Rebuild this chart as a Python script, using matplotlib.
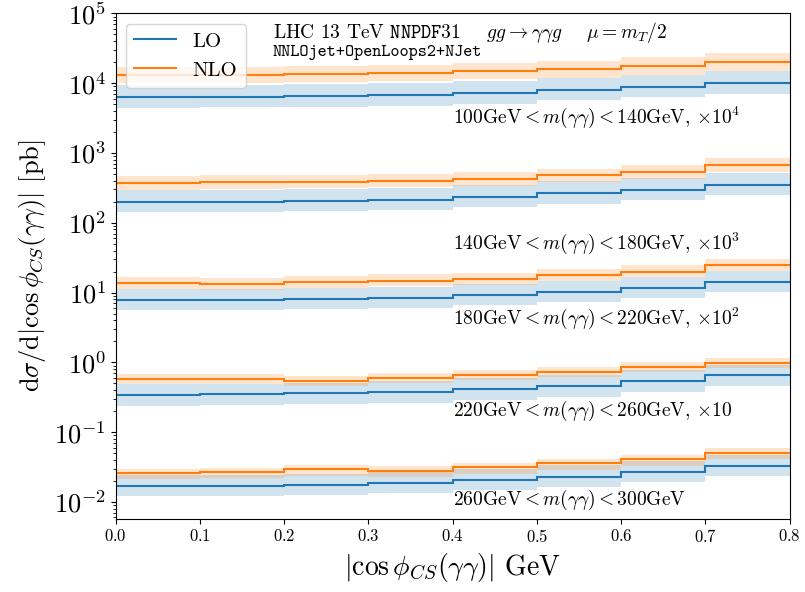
import matplotlib
matplotlib.use("Agg")
import matplotlib.pyplot as plt
import numpy as np

plt.rcParams['font.family'] = 'cmr10'
plt.rcParams['mathtext.fontset'] = 'cm'
plt.rcParams['axes.formatter.use_mathtext'] = True

edges = [0.0, 0.1, 0.2, 0.3, 0.4, 0.5, 0.6, 0.7, 0.8]

# mass bins, scale factor used for display
mass_bins = ["100", "140", "180", "220", "260", "300"]
scales = [1e4, 1e3, 1e2, 1e1, 1.0]
scale_txt = [r", $\times10^4$", r", $\times10^3$", r", $\times10^2$", r", $\times10$", ""]

# cross sections in pb (before scaling)
lo = [
    [0.639, 0.640, 0.653, 0.682, 0.714, 0.796, 0.888, 1.000],
    [0.198, 0.200, 0.205, 0.214, 0.233, 0.264, 0.297, 0.350],
    [0.0781, 0.0789, 0.0815, 0.0842, 0.0930, 0.103, 0.117, 0.141],
    [0.0340, 0.0348, 0.0360, 0.0379, 0.0414, 0.0457, 0.0540, 0.0651],
    [0.0169, 0.0171, 0.0176, 0.0188, 0.0206, 0.0230, 0.0268, 0.0327],
]
nlo = [
    [1.31, 1.31, 1.35, 1.38, 1.49, 1.58, 1.77, 2.01],
    [0.374, 0.383, 0.387, 0.400, 0.423, 0.478, 0.538, 0.671],
    [0.1355, 0.1324, 0.141, 0.1475, 0.1545, 0.178, 0.199, 0.248],
    [0.0577, 0.0571, 0.0545, 0.0601, 0.0658, 0.0726, 0.0848, 0.0987],
    [0.0259, 0.0268, 0.0293, 0.0280, 0.0313, 0.0357, 0.0408, 0.0507],
]

# scale variation envelopes (ratio to central)
lo_up = [
    [1.47, 1.47, 1.47, 1.48, 1.48, 1.48, 1.49, 1.49],
    [1.49, 1.49, 1.49, 1.49, 1.49, 1.49, 1.49, 1.49],
    [1.42, 1.42, 1.42, 1.42, 1.42, 1.43, 1.43, 1.43],
    [1.42, 1.42, 1.42, 1.42, 1.43, 1.43, 1.43, 1.43],
    [1.44, 1.44, 1.44, 1.44, 1.44, 1.45, 1.45, 1.45],
]
lo_dn = [
    [0.70, 0.70, 0.70, 0.70, 0.71, 0.71, 0.71, 0.71],
    [0.72, 0.72, 0.72, 0.72, 0.72, 0.71, 0.71, 0.71],
    [0.71, 0.71, 0.71, 0.71, 0.71, 0.71, 0.71, 0.71],
    [0.70, 0.70, 0.70, 0.70, 0.70, 0.70, 0.70, 0.70],
    [0.72, 0.72, 0.72, 0.72, 0.72, 0.72, 0.72, 0.72],
]
nlo_up = [
    [1.30, 1.30, 1.30, 1.31, 1.31, 1.32, 1.32, 1.33],
    [1.25, 1.25, 1.25, 1.25, 1.25, 1.25, 1.25, 1.25],
    [1.23, 1.23, 1.23, 1.23, 1.23, 1.23, 1.23, 1.23],
    [1.18, 1.18, 1.18, 1.18, 1.18, 1.18, 1.18, 1.18],
    [1.15, 1.15, 1.15, 1.15, 1.15, 1.15, 1.15, 1.15],
]
nlo_dn = [
    [0.77, 0.77, 0.77, 0.77, 0.76, 0.76, 0.75, 0.75],
    [0.80, 0.80, 0.80, 0.80, 0.80, 0.80, 0.79, 0.79],
    [0.83, 0.83, 0.83, 0.83, 0.83, 0.83, 0.83, 0.83],
    [0.85, 0.85, 0.85, 0.85, 0.85, 0.85, 0.85, 0.85],
    [0.81, 0.81, 0.81, 0.81, 0.81, 0.81, 0.81, 0.81],
]

# label y positions (already scaled)
label_y = [3.27e3, 50.0, 4.3, 0.2, 0.0106]

fig = plt.figure(figsize=(8.05, 5.92), dpi=100)
ax = fig.add_axes([0.1437, 0.1238, 0.8373, 0.8537])

for i in range(len(scales)):
    s = scales[i]
    l = np.array(lo[i]) * s
    n = np.array(nlo[i]) * s
    ax.stairs(l * np.array(lo_up[i]), edges, baseline=l * np.array(lo_dn[i]),
              fill=True, color='C0', alpha=0.2, lw=0)
    ax.stairs(n * np.array(nlo_up[i]), edges, baseline=n * np.array(nlo_dn[i]),
              fill=True, color='C1', alpha=0.2, lw=0)
    ax.stairs(l, edges, baseline=None, color='C0', lw=1.5, label='LO' if i == 0 else None)
    ax.stairs(n, edges, baseline=None, color='C1', lw=1.5, label='NLO' if i == 0 else None)
    txt = r"$%s\mathrm{GeV} < m(\gamma\gamma) < %s\mathrm{GeV}$" % (mass_bins[i], mass_bins[i + 1]) + scale_txt[i]
    ax.text(0.4, label_y[i], txt, fontsize=14, va='center', ha='left')

ax.set_yscale('log')
ax.set_xlim(0, 0.8)
ax.set_ylim(5.75e-3, 1e5)
ax.set_xticks(edges)
ax.tick_params(axis='x', labelsize=12)
ax.tick_params(axis='y', labelsize=19)

ax.set_xlabel(r"$|\cos\phi_{CS}(\gamma\gamma)|$ GeV", fontsize=20)
ax.set_ylabel(r"$\mathrm{d}\sigma/\mathrm{d}|\cos\phi_{CS}(\gamma\gamma)|$ [pb]", fontsize=19)

ax.text(0.233, 0.962, r"LHC 13 TeV $\mathtt{NNPDF31}$    $gg\rightarrow\gamma\gamma g$    $\mu=m_T/2$",
        transform=ax.transAxes, fontsize=14, va='center')
ax.text(0.233, 0.922, "NNLOjet+OpenLoops2+NJet", family='cmtt10',
        transform=ax.transAxes, fontsize=12.5, va='center')

ax.legend(loc='upper left', fontsize=15)

fig.savefig('out.png', dpi=100)
